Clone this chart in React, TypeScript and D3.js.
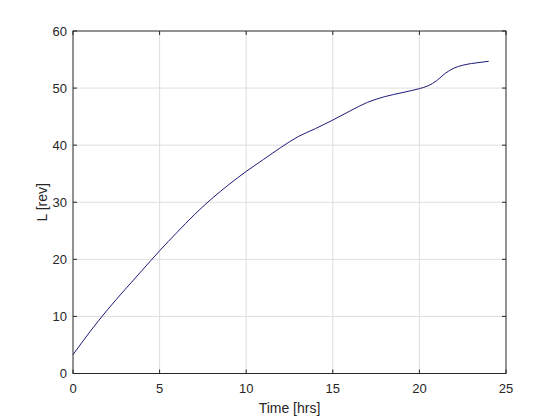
import React from "react";
import * as d3 from "d3";

// time [hrs] and L [rev]
const hours = [0, 1, 2, 3, 4, 5, 6, 7, 8, 9, 10, 11, 12, 13, 14, 15, 16, 17, 18, 19, 20, 20.5, 21, 21.5, 22, 22.5, 23, 23.5, 24];
const revs = [3.3, 7.4, 11.2, 14.7, 18.1, 21.5, 24.7, 27.8, 30.6, 33.1, 35.4, 37.5, 39.6, 41.5, 42.9, 44.4, 46.0, 47.5, 48.5, 49.2, 49.9, 50.4, 51.3, 52.6, 53.5, 54.0, 54.3, 54.5, 54.7];
const xTicks = [0, 5, 10, 15, 20, 25];
const yTicks = [0, 10, 20, 30, 40, 50, 60];

const W = 560;
const H = 420;
const m = { left: 73, right: 54, top: 31, bottom: 46.5 };
const font = "'Liberation Sans', Arial, Helvetica, sans-serif";
const ink = "#262626";

export default function App() {
    const x = d3.scaleLinear().domain([0, 25]).range([m.left, W - m.right]);
    const y = d3.scaleLinear().domain([0, 60]).range([H - m.bottom, m.top]);

    const line = d3
        .line<number>()
        .x((d, i) => x(hours[i]))
        .y(d => y(d))
        .curve(d3.curveMonotoneX);

    const x0 = x(0), x1 = x(25), y0 = y(0), y1 = y(60);
    const tk = 4;

    return (
        <svg
            width={W}
            height={H}
            style={{ position: "absolute", left: 0, top: 0, background: "#fff" }}
        >
            <rect x={0} y={0} width={W} height={H} fill="#fff" />
            {/* grid */}
            {xTicks.slice(1, -1).map(t => (
                <line key={"gx" + t} x1={x(t)} x2={x(t)} y1={y0} y2={y1} stroke="#dedede" strokeWidth={1} />
            ))}
            {yTicks.slice(1, -1).map(t => (
                <line key={"gy" + t} x1={x0} x2={x1} y1={y(t)} y2={y(t)} stroke="#dedede" strokeWidth={1} />
            ))}

            <path d={line(revs) || ""} fill="none" stroke="#1c1a78" strokeWidth={1} />

            {/* box */}
            <rect x={x0} y={y1} width={x1 - x0} height={y0 - y1} fill="none" stroke={ink} strokeWidth={1} />

            {/* ticks inside, on all four sides */}
            {xTicks.map(t => (
                <g key={"tx" + t}>
                    <line x1={x(t)} x2={x(t)} y1={y0} y2={y0 - tk} stroke={ink} />
                    <line x1={x(t)} x2={x(t)} y1={y1} y2={y1 + tk} stroke={ink} />
                    <text x={x(t)} y={y0 + 19} textAnchor="middle" fontFamily={font} fontSize={13} fill={ink}>
                        {t}
                    </text>
                </g>
            ))}
            {yTicks.map(t => (
                <g key={"ty" + t}>
                    <line x1={x0} x2={x0 + tk} y1={y(t)} y2={y(t)} stroke={ink} />
                    <line x1={x1} x2={x1 - tk} y1={y(t)} y2={y(t)} stroke={ink} />
                    <text x={x0 - 6} y={y(t) + 4.5} textAnchor="end" fontFamily={font} fontSize={13} fill={ink}>
                        {t}
                    </text>
                </g>
            ))}

            <text x={(x0 + x1) / 2} y={413} textAnchor="middle" fontFamily={font} fontSize={14} fill={ink}>
                Time [hrs]
            </text>
            <text
                transform={`translate(47 ${(y0 + y1) / 2}) rotate(-90)`}
                textAnchor="middle"
                fontFamily={font}
                fontSize={14}
                fill={ink}
            >
                L [rev]
            </text>
        </svg>
    );
}
